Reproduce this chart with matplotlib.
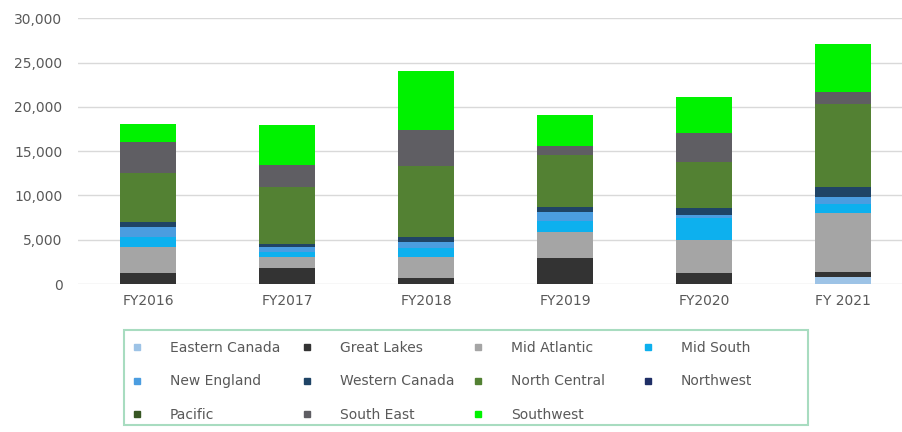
import matplotlib
matplotlib.use("Agg")
import matplotlib.pyplot as plt
from matplotlib.lines import Line2D
from matplotlib.patches import Rectangle
from matplotlib.ticker import FuncFormatter
import numpy as np

years = ["FY2016", "FY2017", "FY2018", "FY2019", "FY2020", "FY 2021"]

eastern_canada = [0, 0, 0, 0, 0, 760]
great_lakes    = [1200, 1770, 640, 2900, 1200, 630]
mid_atlantic   = [3000, 1310, 2440, 3000, 3760, 6580]
mid_south      = [1150, 550, 1000, 1200, 2520, 1080]
new_england    = [1100, 580, 690, 1050, 300, 800]
western_canada = [580, 300, 560, 570, 760, 1120]
north_central  = [5450, 6460, 7980, 5830, 5260, 9410]
northwest      = [0, 0, 0, 0, 0, 0]
pacific        = [0, 0, 0, 0, 0, 0]
south_east     = [3570, 2450, 4060, 1010, 3200, 1310]
southwest      = [2070, 4510, 6690, 3500, 4120, 5380]

series_names = ["Eastern Canada", "Great Lakes", "Mid Atlantic", "Mid South",
                "New England", "Western Canada", "North Central", "Northwest",
                "Pacific", "South East", "Southwest"]
series_values = [eastern_canada, great_lakes, mid_atlantic, mid_south,
                 new_england, western_canada, north_central, northwest,
                 pacific, south_east, southwest]
colors = ["#9dc3e6", "#333333", "#a5a5a5", "#0db0ee", "#4b9de0", "#1f4466",
          "#538133", "#1f2f66", "#375623", "#5f5e63", "#00f200"]

fig = plt.figure(figsize=(9.03, 4.32), dpi=100)
W, H = 903, 432
ax_left, ax_right = 78.5, 912.5
ax_bottom, ax_top = 284, 18.3
ax = fig.add_axes([ax_left / W, 1 - ax_bottom / H,
                   (ax_right - ax_left) / W, (ax_bottom - ax_top) / H])

x = np.arange(len(years))
bottom = np.zeros(len(years))
handles = []
for name, vals, c in zip(series_names, series_values, colors):
    vals = np.array(vals, dtype=float)
    ax.bar(x, vals, width=0.4, bottom=bottom, color=c, label=name, zorder=3)
    bottom += vals
    handles.append(Line2D([], [], marker="s", linestyle="none", markersize=4.5,
                          markerfacecolor=c, markeredgecolor=c))

ax.set_xlim(-0.5, len(years) - 0.5)
ax.set_ylim(0, 30000)
ax.set_yticks(np.arange(0, 30001, 5000))
ax.yaxis.set_major_formatter(FuncFormatter(lambda v, p: f"{int(v):,}"))
ax.set_xticks(x)
ax.set_xticklabels(years)
ax.grid(axis="y", color="#d9d9d9", linewidth=1, zorder=0)
for s in ax.spines.values():
    s.set_visible(False)
ax.tick_params(axis="both", length=0, colors="#595959", labelsize=10)
ax.tick_params(axis="y", pad=11.5)
ax.tick_params(axis="x", pad=7)

# legend frame
fx0, fx1 = 124 / W, 808 / W
fy1, fy0 = 1 - 330 / H, 1 - 425 / H
fig.patches.append(Rectangle((fx0, fy0), fx1 - fx0, fy1 - fy0, transform=fig.transFigure,
                             fill=False, edgecolor="#a8dcc0", linewidth=1.5))

col_markers = [137, 307, 478, 648]
columns = [[0, 4, 8], [1, 5, 9], [2, 6, 10], [3, 7]]
fs = 10
px = fs * 100 / 72.0
for cx, idxs in zip(col_markers, columns):
    hl = 1.0
    left = cx - hl * px / 2
    leg = fig.legend([handles[i] for i in idxs], [series_names[i] for i in idxs],
                     loc="upper left", bbox_to_anchor=(left / W, 1 - 341 / H),
                     bbox_transform=fig.transFigure, frameon=False, fontsize=fs,
                     handlelength=hl, handletextpad=1.88, borderpad=0,
                     borderaxespad=0, labelspacing=1.4, labelcolor="#595959")

fig.savefig("out.png", dpi=100)
